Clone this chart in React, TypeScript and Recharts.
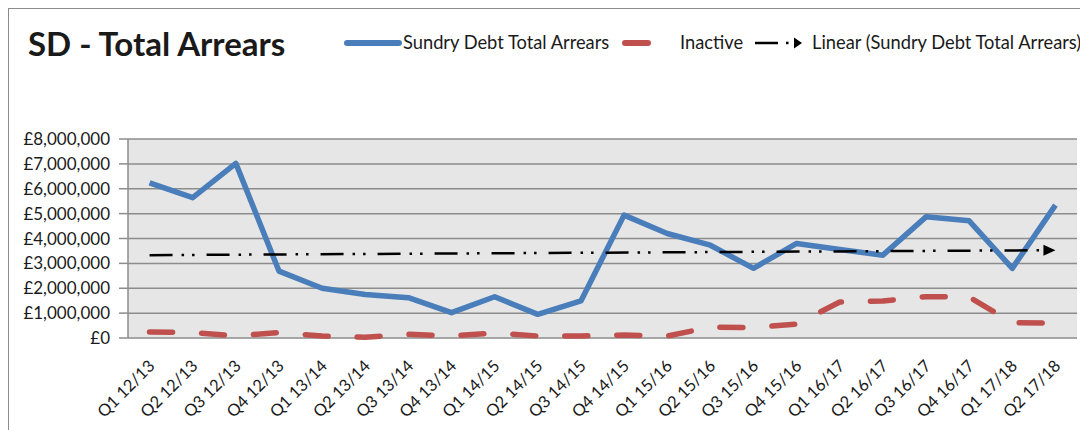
import React from "react";
import { LineChart, Line, XAxis, YAxis, CartesianGrid } from "recharts";

const categories = [
  "Q1 12/13", "Q2 12/13", "Q3 12/13", "Q4 12/13",
  "Q1 13/14", "Q2 13/14", "Q3 13/14", "Q4 13/14",
  "Q1 14/15", "Q2 14/15", "Q3 14/15", "Q4 14/15",
  "Q1 15/16", "Q2 15/16", "Q3 15/16", "Q4 15/16",
  "Q1 16/17", "Q2 16/17", "Q3 16/17", "Q4 16/17",
  "Q1 17/18", "Q2 17/18",
];

const sundryDebt = [
  6240000, 5640000, 7020000, 2690000,
  2000000, 1750000, 1620000, 1020000,
  1660000, 950000, 1490000, 4940000,
  4200000, 3730000, 2800000, 3800000,
  3560000, 3330000, 4870000, 4710000,
  2800000, 5340000,
];

const inactive = [
  240000, 220000, 80000, 220000,
  80000, 30000, 150000, 80000,
  200000, 80000, 80000, 120000,
  80000, 430000, 420000, 560000,
  1450000, 1490000, 1660000, 1650000,
  620000, 600000,
];

// linear trend line read at its two ends
const trendEnds = [3330000, 3530000];

const yTicks = [0, 1000000, 2000000, 3000000, 4000000, 5000000, 6000000, 7000000, 8000000];

const last = categories.length - 1;
const data = categories.map((q, i) => ({
  i,
  q,
  sd: sundryDebt[i],
  inactive: inactive[i],
  trend: i === 0 ? trendEnds[0] : i === last ? trendEnds[1] : null,
}));

const centerTicks = categories.map((_, i) => i);
const boundaryTicks = [...categories.map((_, i) => i - 0.5), last + 0.5];

const FONT = "Lato, 'Noto Sans', sans-serif";
const TXT = "#1a1a1a";

const XLabel = (props: any) => {
  const { x, y, payload } = props;
  return (
    <g transform={`translate(${x + 2},${y + 17})`}>
      <text
        transform="rotate(-45)"
        textAnchor="end"
        x={0}
        y={0}
        dy="0.35em"
        fontSize={16.5}
        fontFamily={FONT}
        fill={TXT}
      >
        {categories[payload.value]}
      </text>
    </g>
  );
};

const TrendArrow = (props: any) => {
  const { cx, cy, index } = props;
  if (index !== last || cx == null || cy == null) return <g key={`ta-${index}`} />;
  return (
    <polygon
      key={`ta-${index}`}
      points={`${cx - 12},${cy - 5.5} ${cx},${cy} ${cx - 12},${cy + 5.5}`}
      fill="#000"
    />
  );
};

export default function App() {
  return (
    <div
      style={{
        position: "relative",
        width: 1080,
        height: 422,
        borderTop: "1px solid #8c8c8c",
        borderLeft: "1px solid #8c8c8c",
        boxSizing: "border-box",
        overflow: "hidden",
        background: "#fff",
      }}
    >
      <style>{`body{overflow:hidden}`}</style>
      <div style={{ position: "absolute", left: 0, top: 0 }}>
        <LineChart
          width={1079}
          height={421}
          data={data}
          margin={{ top: 130, right: 11, bottom: 12, left: 19 }}
        >
          <CartesianGrid vertical={false} stroke="#8c8c8c" strokeWidth={1.5} fill="#e6e6e6" />
          <XAxis
            xAxisId={0}
            type="number"
            dataKey="i"
            domain={[-0.5, last + 0.5]}
            ticks={boundaryTicks}
            interval={0}
            tickFormatter={() => ""}
            tickSize={6}
            height={0}
            stroke="#8c8c8c"
            axisLine={{ stroke: "#8c8c8c", strokeWidth: 1.5 }}
            tickLine={{ stroke: "#8c8c8c", strokeWidth: 1.5 }}
          />
          <XAxis
            xAxisId="lbl"
            type="number"
            dataKey="i"
            domain={[-0.5, last + 0.5]}
            ticks={centerTicks}
            interval={0}
            axisLine={false}
            tickLine={false}
            height={80}
            tick={<XLabel />}
          />
          <YAxis
            type="number"
            domain={[0, 8000000]}
            ticks={yTicks}
            interval={0}
            width={100}
            tickSize={9}
            tickMargin={9}
            axisLine={{ stroke: "#8c8c8c", strokeWidth: 1.5 }}
            tickLine={{ stroke: "#8c8c8c", strokeWidth: 1.5 }}
            tick={{ fontSize: 17, fontFamily: FONT, fill: TXT }}
            tickFormatter={(v: number) => "£" + v.toLocaleString("en-GB")}
          />
          <Line
            dataKey="sd"
            type="linear"
            stroke="#4a7ebb"
            strokeWidth={5.5}
            strokeLinejoin="round"
            dot={false}
            activeDot={false}
            isAnimationActive={false}
          />
          <Line
            dataKey="inactive"
            type="linear"
            stroke="#c0504d"
            strokeWidth={5.5}
            strokeDasharray="23 29"
            strokeLinecap="round"
            strokeLinejoin="round"
            dot={false}
            activeDot={false}
            isAnimationActive={false}
          />
          <Line
            dataKey="trend"
            type="linear"
            stroke="#000"
            strokeWidth={2.5}
            strokeDasharray="23 9 2.5 8 2.5 12"
            connectNulls
            dot={<TrendArrow />}
            activeDot={false}
            isAnimationActive={false}
          />
        </LineChart>
      </div>
      <svg
        width={1079}
        height={80}
        style={{ position: "absolute", left: 0, top: 0, pointerEvents: "none" }}
      >
        <text x={19} y={35} dy="0.35em" fontSize={33} fontWeight="bold" fontFamily={FONT} fill={TXT}>
          SD - Total Arrears
        </text>
        <line x1={338} y1={34} x2={390} y2={34} stroke="#4a7ebb" strokeWidth={6} strokeLinecap="round" />
        <text x={394} y={34} dy="0.35em" fontSize={18.3} fontFamily={FONT} fill={TXT}>
          Sundry Debt Total Arrears
        </text>
        <line x1={616} y1={34} x2={639} y2={34} stroke="#c0504d" strokeWidth={6} strokeLinecap="round" />
        <text x={671} y={34} dy="0.35em" fontSize={18.3} fontFamily={FONT} fill={TXT}>
          Inactive
        </text>
        <line x1={746} y1={34} x2={769} y2={34} stroke="#000" strokeWidth={2.5} />
        <rect x={777} y={32.7} width={2.5} height={2.5} fill="#000" />
        <polygon points="785,28.5 793,34 785,39.5" fill="#000" />
        <text x={803} y={34} dy="0.35em" fontSize={18.3} fontFamily={FONT} fill={TXT}>
          Linear (Sundry Debt Total Arrears)
        </text>
      </svg>
    </div>
  );
}
